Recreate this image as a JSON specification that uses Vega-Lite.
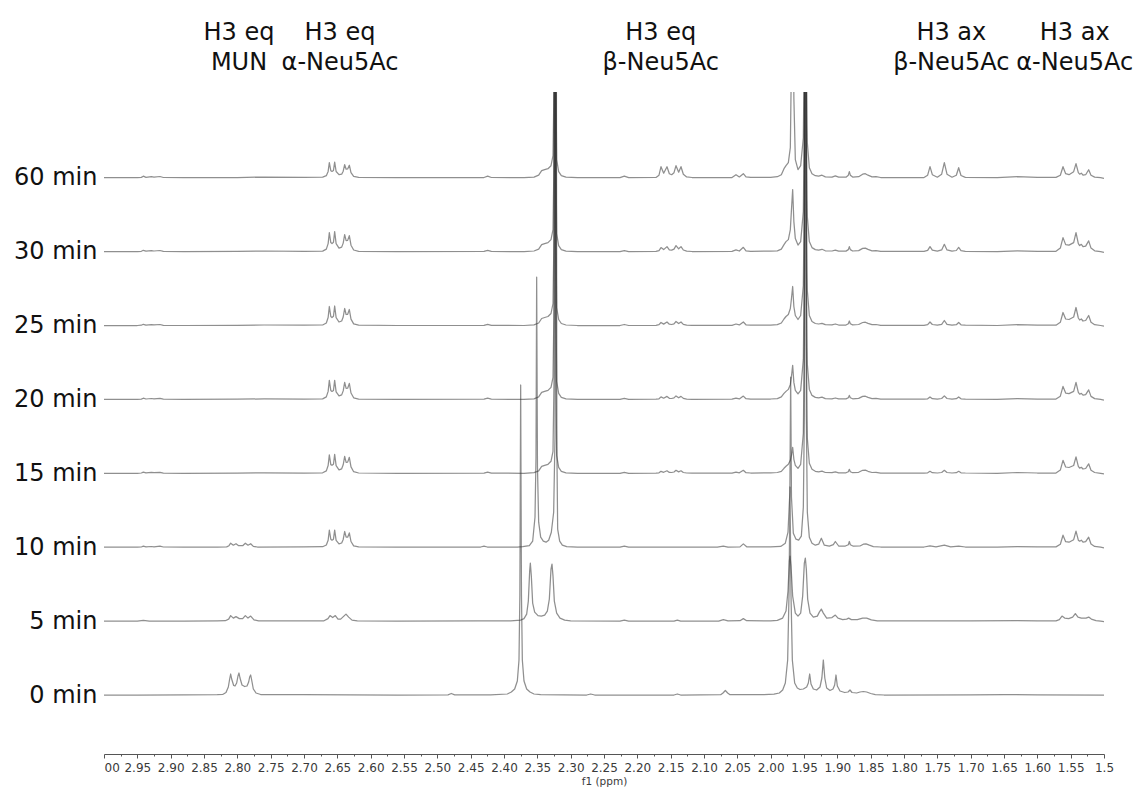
{
"$schema": "https://vega.github.io/schema/vega-lite/v6.json",
"width": 1000, "height": 662,
"autosize": {"type": "none"},
"padding": {"left": 104, "top": 92, "right": 31, "bottom": 38},
"background": "white",
"config": {"view": {"stroke": null}},
"resolve": {"axis": {"x": "independent"}},
"datasets": {
"headers": [
{"ppm": 2.7975, "label": "H3 eq\nMUN"},
{"ppm": 2.646, "label": "H3 eq\nα-Neu5Ac"},
{"ppm": 2.165, "label": "H3 eq\nβ-Neu5Ac"},
{"ppm": 1.729, "label": "H3 ax\nβ-Neu5Ac"},
{"ppm": 1.544, "label": "H3 ax\nα-Neu5Ac"}
],
"spectra": [
{"time":"60 min","ppm":3.000,"amp":0},{"time":"60 min","ppm":2.950,"amp":0},{"time":"60 min","ppm":2.944,"amp":0.3},{"time":"60 min","ppm":2.941,"amp":1.5},{"time":"60 min","ppm":2.937,"amp":0.4},{"time":"60 min","ppm":2.929,"amp":1.0},{"time":"60 min","ppm":2.925,"amp":0.6},{"time":"60 min","ppm":2.916,"amp":1.2},{"time":"60 min","ppm":2.911,"amp":0.2},{"time":"60 min","ppm":2.880,"amp":0},{"time":"60 min","ppm":2.800,"amp":0.2},{"time":"60 min","ppm":2.760,"amp":0.6},{"time":"60 min","ppm":2.700,"amp":0.3},
{"time":"60 min","ppm":2.672,"amp":0.5},{"time":"60 min","ppm":2.6665,"amp":2},{"time":"60 min","ppm":2.6638,"amp":6.3},{"time":"60 min","ppm":2.662,"amp":15},{"time":"60 min","ppm":2.6598,"amp":7},{"time":"60 min","ppm":2.658,"amp":6.3},{"time":"60 min","ppm":2.6558,"amp":7.3},{"time":"60 min","ppm":2.654,"amp":15.5},{"time":"60 min","ppm":2.6518,"amp":6.2},{"time":"60 min","ppm":2.6475,"amp":3},{"time":"60 min","ppm":2.6435,"amp":3.5},{"time":"60 min","ppm":2.6412,"amp":6.5},{"time":"60 min","ppm":2.639,"amp":13},{"time":"60 min","ppm":2.6368,"amp":8.5},{"time":"60 min","ppm":2.6345,"amp":8.8},{"time":"60 min","ppm":2.632,"amp":12.5},{"time":"60 min","ppm":2.6295,"amp":5},{"time":"60 min","ppm":2.6255,"amp":1.3},{"time":"60 min","ppm":2.618,"amp":0.3},
{"time":"60 min","ppm":2.560,"amp":0},{"time":"60 min","ppm":2.430,"amp":0.2},{"time":"60 min","ppm":2.4245,"amp":1.5},{"time":"60 min","ppm":2.419,"amp":0.2},{"time":"60 min","ppm":2.370,"amp":0},
{"time":"60 min","ppm":2.355,"amp":0.6},{"time":"60 min","ppm":2.348,"amp":2.5},{"time":"60 min","ppm":2.3435,"amp":7},{"time":"60 min","ppm":2.339,"amp":8},{"time":"60 min","ppm":2.334,"amp":9},{"time":"60 min","ppm":2.3295,"amp":12},{"time":"60 min","ppm":2.3265,"amp":22},{"time":"60 min","ppm":2.3248,"amp":100},{"time":"60 min","ppm":2.3235,"amp":800},{"time":"60 min","ppm":2.3222,"amp":100},{"time":"60 min","ppm":2.321,"amp":18},{"time":"60 min","ppm":2.318,"amp":6},{"time":"60 min","ppm":2.314,"amp":2},{"time":"60 min","ppm":2.307,"amp":0.5},{"time":"60 min","ppm":2.290,"amp":0},
{"time":"60 min","ppm":2.226,"amp":0},{"time":"60 min","ppm":2.2195,"amp":1.5},{"time":"60 min","ppm":2.213,"amp":0},
{"time":"60 min","ppm":2.172,"amp":0.3},{"time":"60 min","ppm":2.1675,"amp":2.5},{"time":"60 min","ppm":2.1645,"amp":11},{"time":"60 min","ppm":2.1605,"amp":4.5},{"time":"60 min","ppm":2.1555,"amp":11},{"time":"60 min","ppm":2.152,"amp":4},{"time":"60 min","ppm":2.1485,"amp":3},{"time":"60 min","ppm":2.145,"amp":5},{"time":"60 min","ppm":2.142,"amp":12},{"time":"60 min","ppm":2.138,"amp":5.5},{"time":"60 min","ppm":2.1345,"amp":11},{"time":"60 min","ppm":2.131,"amp":3.5},{"time":"60 min","ppm":2.126,"amp":0.8},{"time":"60 min","ppm":2.118,"amp":0.2},
{"time":"60 min","ppm":2.058,"amp":0.2},{"time":"60 min","ppm":2.052,"amp":3},{"time":"60 min","ppm":2.047,"amp":0.8},{"time":"60 min","ppm":2.041,"amp":4},{"time":"60 min","ppm":2.037,"amp":0.8},{"time":"60 min","ppm":2.030,"amp":0.3},{"time":"60 min","ppm":2.000,"amp":0.4},{"time":"60 min","ppm":1.990,"amp":1},
{"time":"60 min","ppm":1.984,"amp":3},{"time":"60 min","ppm":1.980,"amp":9},{"time":"60 min","ppm":1.977,"amp":12},{"time":"60 min","ppm":1.9735,"amp":15},{"time":"60 min","ppm":1.9705,"amp":30},{"time":"60 min","ppm":1.9688,"amp":120},{"time":"60 min","ppm":1.967,"amp":300},{"time":"60 min","ppm":1.9652,"amp":80},{"time":"60 min","ppm":1.963,"amp":18},{"time":"60 min","ppm":1.959,"amp":8},{"time":"60 min","ppm":1.955,"amp":12},{"time":"60 min","ppm":1.951,"amp":40},
{"time":"60 min","ppm":1.9495,"amp":130},{"time":"60 min","ppm":1.948,"amp":800},{"time":"60 min","ppm":1.9465,"amp":130},{"time":"60 min","ppm":1.945,"amp":35},{"time":"60 min","ppm":1.942,"amp":10},{"time":"60 min","ppm":1.938,"amp":4},{"time":"60 min","ppm":1.933,"amp":2},
{"time":"60 min","ppm":1.928,"amp":1.5},{"time":"60 min","ppm":1.923,"amp":2.5},{"time":"60 min","ppm":1.918,"amp":0.8},{"time":"60 min","ppm":1.908,"amp":0.6},{"time":"60 min","ppm":1.903,"amp":1.8},{"time":"60 min","ppm":1.898,"amp":0.5},{"time":"60 min","ppm":1.887,"amp":0.5},{"time":"60 min","ppm":1.8835,"amp":2.5},{"time":"60 min","ppm":1.882,"amp":6},{"time":"60 min","ppm":1.8805,"amp":2.5},{"time":"60 min","ppm":1.877,"amp":0.6},{"time":"60 min","ppm":1.868,"amp":1},{"time":"60 min","ppm":1.862,"amp":3.5},{"time":"60 min","ppm":1.858,"amp":4},{"time":"60 min","ppm":1.854,"amp":2.5},{"time":"60 min","ppm":1.848,"amp":0.8},{"time":"60 min","ppm":1.842,"amp":1},{"time":"60 min","ppm":1.835,"amp":0.2},
{"time":"60 min","ppm":1.770,"amp":0.2},{"time":"60 min","ppm":1.7645,"amp":2.5},{"time":"60 min","ppm":1.761,"amp":11},{"time":"60 min","ppm":1.7575,"amp":3},{"time":"60 min","ppm":1.750,"amp":0.5},{"time":"60 min","ppm":1.7435,"amp":3.5},{"time":"60 min","ppm":1.7395,"amp":15},{"time":"60 min","ppm":1.7355,"amp":3.5},{"time":"60 min","ppm":1.728,"amp":0.5},{"time":"60 min","ppm":1.7215,"amp":2.5},{"time":"60 min","ppm":1.718,"amp":10},{"time":"60 min","ppm":1.7145,"amp":2.2},{"time":"60 min","ppm":1.708,"amp":0.3},
{"time":"60 min","ppm":1.660,"amp":0},{"time":"60 min","ppm":1.630,"amp":1},{"time":"60 min","ppm":1.600,"amp":0.3},
{"time":"60 min","ppm":1.572,"amp":0.3},{"time":"60 min","ppm":1.5655,"amp":2.5},{"time":"60 min","ppm":1.5615,"amp":11},{"time":"60 min","ppm":1.5575,"amp":4},{"time":"60 min","ppm":1.5525,"amp":3},{"time":"60 min","ppm":1.5455,"amp":6},{"time":"60 min","ppm":1.542,"amp":14},{"time":"60 min","ppm":1.5385,"amp":5},{"time":"60 min","ppm":1.5365,"amp":3.5},{"time":"60 min","ppm":1.534,"amp":4.5},{"time":"60 min","ppm":1.5315,"amp":2.5},{"time":"60 min","ppm":1.5275,"amp":3},{"time":"60 min","ppm":1.523,"amp":8},{"time":"60 min","ppm":1.5195,"amp":2.5},{"time":"60 min","ppm":1.514,"amp":0.6},{"time":"60 min","ppm":1.505,"amp":0},{"time":"60 min","ppm":1.500,"amp":-0.7},

{"time":"30 min","ppm":3.000,"amp":0},{"time":"30 min","ppm":2.950,"amp":0},{"time":"30 min","ppm":2.944,"amp":0.3},{"time":"30 min","ppm":2.941,"amp":1.3},{"time":"30 min","ppm":2.937,"amp":0.4},{"time":"30 min","ppm":2.929,"amp":1.0},{"time":"30 min","ppm":2.925,"amp":0.6},{"time":"30 min","ppm":2.916,"amp":1.1},{"time":"30 min","ppm":2.911,"amp":0.2},{"time":"30 min","ppm":2.880,"amp":0},{"time":"30 min","ppm":2.800,"amp":0.2},{"time":"30 min","ppm":2.760,"amp":0.6},{"time":"30 min","ppm":2.700,"amp":0.3},
{"time":"30 min","ppm":2.672,"amp":0.5},{"time":"30 min","ppm":2.6665,"amp":2.5},{"time":"30 min","ppm":2.6638,"amp":8},{"time":"30 min","ppm":2.662,"amp":19},{"time":"30 min","ppm":2.6598,"amp":9},{"time":"30 min","ppm":2.658,"amp":8},{"time":"30 min","ppm":2.6558,"amp":9.4},{"time":"30 min","ppm":2.654,"amp":20},{"time":"30 min","ppm":2.6518,"amp":8},{"time":"30 min","ppm":2.6475,"amp":3.5},{"time":"30 min","ppm":2.6435,"amp":4.5},{"time":"30 min","ppm":2.6412,"amp":8.5},{"time":"30 min","ppm":2.639,"amp":17},{"time":"30 min","ppm":2.6368,"amp":11},{"time":"30 min","ppm":2.6345,"amp":11.2},{"time":"30 min","ppm":2.632,"amp":16},{"time":"30 min","ppm":2.6295,"amp":6.4},{"time":"30 min","ppm":2.6255,"amp":1.6},{"time":"30 min","ppm":2.618,"amp":0.3},
{"time":"30 min","ppm":2.560,"amp":0},{"time":"30 min","ppm":2.430,"amp":0.2},{"time":"30 min","ppm":2.4245,"amp":1.2},{"time":"30 min","ppm":2.419,"amp":0.2},{"time":"30 min","ppm":2.370,"amp":0},
{"time":"30 min","ppm":2.355,"amp":0.6},{"time":"30 min","ppm":2.348,"amp":2.5},{"time":"30 min","ppm":2.3435,"amp":7},{"time":"30 min","ppm":2.339,"amp":8},{"time":"30 min","ppm":2.334,"amp":9},{"time":"30 min","ppm":2.3295,"amp":12},{"time":"30 min","ppm":2.3265,"amp":22},{"time":"30 min","ppm":2.3248,"amp":100},{"time":"30 min","ppm":2.3235,"amp":800},{"time":"30 min","ppm":2.3222,"amp":100},{"time":"30 min","ppm":2.321,"amp":18},{"time":"30 min","ppm":2.318,"amp":6},{"time":"30 min","ppm":2.314,"amp":2},{"time":"30 min","ppm":2.307,"amp":0.5},{"time":"30 min","ppm":2.290,"amp":0},
{"time":"30 min","ppm":2.226,"amp":0},{"time":"30 min","ppm":2.2195,"amp":1},{"time":"30 min","ppm":2.213,"amp":0},
{"time":"30 min","ppm":2.172,"amp":0.2},{"time":"30 min","ppm":2.1675,"amp":1},{"time":"30 min","ppm":2.1645,"amp":4},{"time":"30 min","ppm":2.1605,"amp":2},{"time":"30 min","ppm":2.1555,"amp":5},{"time":"30 min","ppm":2.152,"amp":1.8},{"time":"30 min","ppm":2.1485,"amp":1.5},{"time":"30 min","ppm":2.145,"amp":2.5},{"time":"30 min","ppm":2.142,"amp":6},{"time":"30 min","ppm":2.138,"amp":2.8},{"time":"30 min","ppm":2.1345,"amp":5},{"time":"30 min","ppm":2.131,"amp":1.6},{"time":"30 min","ppm":2.126,"amp":0.4},{"time":"30 min","ppm":2.118,"amp":0.1},
{"time":"30 min","ppm":2.058,"amp":0.2},{"time":"30 min","ppm":2.052,"amp":1.7},{"time":"30 min","ppm":2.047,"amp":0.6},{"time":"30 min","ppm":2.041,"amp":4.3},{"time":"30 min","ppm":2.037,"amp":0.8},{"time":"30 min","ppm":2.030,"amp":0.3},{"time":"30 min","ppm":2.000,"amp":0.4},{"time":"30 min","ppm":1.990,"amp":0.8},
{"time":"30 min","ppm":1.984,"amp":2.5},{"time":"30 min","ppm":1.980,"amp":7},{"time":"30 min","ppm":1.977,"amp":10},{"time":"30 min","ppm":1.9735,"amp":12},{"time":"30 min","ppm":1.9705,"amp":22},{"time":"30 min","ppm":1.9688,"amp":42},{"time":"30 min","ppm":1.967,"amp":62},{"time":"30 min","ppm":1.9652,"amp":30},{"time":"30 min","ppm":1.963,"amp":13},{"time":"30 min","ppm":1.959,"amp":6.5},{"time":"30 min","ppm":1.955,"amp":10},{"time":"30 min","ppm":1.951,"amp":40},
{"time":"30 min","ppm":1.9495,"amp":130},{"time":"30 min","ppm":1.948,"amp":800},{"time":"30 min","ppm":1.9465,"amp":130},{"time":"30 min","ppm":1.945,"amp":35},{"time":"30 min","ppm":1.942,"amp":10},{"time":"30 min","ppm":1.938,"amp":4},{"time":"30 min","ppm":1.933,"amp":2},
{"time":"30 min","ppm":1.928,"amp":1.5},{"time":"30 min","ppm":1.923,"amp":2.3},{"time":"30 min","ppm":1.918,"amp":0.8},{"time":"30 min","ppm":1.908,"amp":0.6},{"time":"30 min","ppm":1.903,"amp":1.5},{"time":"30 min","ppm":1.898,"amp":0.5},{"time":"30 min","ppm":1.887,"amp":0.5},{"time":"30 min","ppm":1.8835,"amp":2},{"time":"30 min","ppm":1.882,"amp":5},{"time":"30 min","ppm":1.8805,"amp":2},{"time":"30 min","ppm":1.877,"amp":0.6},{"time":"30 min","ppm":1.868,"amp":1},{"time":"30 min","ppm":1.862,"amp":3.2},{"time":"30 min","ppm":1.858,"amp":3.5},{"time":"30 min","ppm":1.854,"amp":2.2},{"time":"30 min","ppm":1.848,"amp":0.8},{"time":"30 min","ppm":1.842,"amp":1},{"time":"30 min","ppm":1.835,"amp":0.2},
{"time":"30 min","ppm":1.770,"amp":0.2},{"time":"30 min","ppm":1.7645,"amp":1.2},{"time":"30 min","ppm":1.761,"amp":5},{"time":"30 min","ppm":1.7575,"amp":1.4},{"time":"30 min","ppm":1.750,"amp":0.4},{"time":"30 min","ppm":1.7435,"amp":1.7},{"time":"30 min","ppm":1.7395,"amp":7.3},{"time":"30 min","ppm":1.7355,"amp":1.7},{"time":"30 min","ppm":1.728,"amp":0.4},{"time":"30 min","ppm":1.7215,"amp":1.1},{"time":"30 min","ppm":1.718,"amp":4.3},{"time":"30 min","ppm":1.7145,"amp":1},{"time":"30 min","ppm":1.708,"amp":0.3},
{"time":"30 min","ppm":1.660,"amp":0},{"time":"30 min","ppm":1.630,"amp":0.8},{"time":"30 min","ppm":1.600,"amp":0.3},
{"time":"30 min","ppm":1.572,"amp":0.3},{"time":"30 min","ppm":1.5655,"amp":3.5},{"time":"30 min","ppm":1.5615,"amp":14},{"time":"30 min","ppm":1.5575,"amp":7},{"time":"30 min","ppm":1.5525,"amp":6.5},{"time":"30 min","ppm":1.5455,"amp":9},{"time":"30 min","ppm":1.542,"amp":19},{"time":"30 min","ppm":1.5385,"amp":8},{"time":"30 min","ppm":1.5365,"amp":6},{"time":"30 min","ppm":1.534,"amp":7.3},{"time":"30 min","ppm":1.5315,"amp":5},{"time":"30 min","ppm":1.5275,"amp":5.5},{"time":"30 min","ppm":1.523,"amp":10.7},{"time":"30 min","ppm":1.5195,"amp":3.5},{"time":"30 min","ppm":1.514,"amp":0.8},{"time":"30 min","ppm":1.505,"amp":0},{"time":"30 min","ppm":1.500,"amp":-0.7},

{"time":"25 min","ppm":3.000,"amp":0},{"time":"25 min","ppm":2.950,"amp":0},{"time":"25 min","ppm":2.944,"amp":0.3},{"time":"25 min","ppm":2.941,"amp":1.2},{"time":"25 min","ppm":2.937,"amp":0.4},{"time":"25 min","ppm":2.929,"amp":0.9},{"time":"25 min","ppm":2.925,"amp":0.6},{"time":"25 min","ppm":2.916,"amp":1.0},{"time":"25 min","ppm":2.911,"amp":0.2},{"time":"25 min","ppm":2.880,"amp":0},{"time":"25 min","ppm":2.800,"amp":0.2},{"time":"25 min","ppm":2.760,"amp":0.5},{"time":"25 min","ppm":2.700,"amp":0.3},
{"time":"25 min","ppm":2.672,"amp":0.5},{"time":"25 min","ppm":2.6665,"amp":2.5},{"time":"25 min","ppm":2.6638,"amp":8},{"time":"25 min","ppm":2.662,"amp":19},{"time":"25 min","ppm":2.6598,"amp":9},{"time":"25 min","ppm":2.658,"amp":8},{"time":"25 min","ppm":2.6558,"amp":9.2},{"time":"25 min","ppm":2.654,"amp":19.5},{"time":"25 min","ppm":2.6518,"amp":7.8},{"time":"25 min","ppm":2.6475,"amp":3.5},{"time":"25 min","ppm":2.6435,"amp":4.5},{"time":"25 min","ppm":2.6412,"amp":8.5},{"time":"25 min","ppm":2.639,"amp":17},{"time":"25 min","ppm":2.6368,"amp":11},{"time":"25 min","ppm":2.6345,"amp":11.2},{"time":"25 min","ppm":2.632,"amp":16},{"time":"25 min","ppm":2.6295,"amp":6.4},{"time":"25 min","ppm":2.6255,"amp":1.6},{"time":"25 min","ppm":2.618,"amp":0.3},
{"time":"25 min","ppm":2.560,"amp":0},{"time":"25 min","ppm":2.430,"amp":0.2},{"time":"25 min","ppm":2.4245,"amp":1.2},{"time":"25 min","ppm":2.419,"amp":0.2},{"time":"25 min","ppm":2.370,"amp":0},
{"time":"25 min","ppm":2.355,"amp":0.6},{"time":"25 min","ppm":2.348,"amp":2.5},{"time":"25 min","ppm":2.3435,"amp":7},{"time":"25 min","ppm":2.339,"amp":8},{"time":"25 min","ppm":2.334,"amp":9},{"time":"25 min","ppm":2.3295,"amp":12},{"time":"25 min","ppm":2.3265,"amp":22},{"time":"25 min","ppm":2.3248,"amp":100},{"time":"25 min","ppm":2.3235,"amp":800},{"time":"25 min","ppm":2.3222,"amp":100},{"time":"25 min","ppm":2.321,"amp":18},{"time":"25 min","ppm":2.318,"amp":6},{"time":"25 min","ppm":2.314,"amp":2},{"time":"25 min","ppm":2.307,"amp":0.5},{"time":"25 min","ppm":2.290,"amp":0},
{"time":"25 min","ppm":2.226,"amp":0},{"time":"25 min","ppm":2.2195,"amp":1},{"time":"25 min","ppm":2.213,"amp":0},
{"time":"25 min","ppm":2.172,"amp":0.2},{"time":"25 min","ppm":2.1675,"amp":0.8},{"time":"25 min","ppm":2.1645,"amp":3},{"time":"25 min","ppm":2.1605,"amp":1.4},{"time":"25 min","ppm":2.1555,"amp":3.5},{"time":"25 min","ppm":2.152,"amp":1.3},{"time":"25 min","ppm":2.1485,"amp":1},{"time":"25 min","ppm":2.145,"amp":1.7},{"time":"25 min","ppm":2.142,"amp":4},{"time":"25 min","ppm":2.138,"amp":1.9},{"time":"25 min","ppm":2.1345,"amp":3.5},{"time":"25 min","ppm":2.131,"amp":1.1},{"time":"25 min","ppm":2.126,"amp":0.3},{"time":"25 min","ppm":2.118,"amp":0.1},
{"time":"25 min","ppm":2.058,"amp":0.2},{"time":"25 min","ppm":2.052,"amp":1.5},{"time":"25 min","ppm":2.047,"amp":0.6},{"time":"25 min","ppm":2.041,"amp":3.5},{"time":"25 min","ppm":2.037,"amp":0.7},{"time":"25 min","ppm":2.030,"amp":0.3},{"time":"25 min","ppm":2.000,"amp":0.4},{"time":"25 min","ppm":1.990,"amp":0.8},
{"time":"25 min","ppm":1.984,"amp":2.5},{"time":"25 min","ppm":1.980,"amp":6.5},{"time":"25 min","ppm":1.977,"amp":9},{"time":"25 min","ppm":1.9735,"amp":11},{"time":"25 min","ppm":1.9705,"amp":17},{"time":"25 min","ppm":1.9688,"amp":27},{"time":"25 min","ppm":1.967,"amp":39},{"time":"25 min","ppm":1.9652,"amp":19},{"time":"25 min","ppm":1.963,"amp":10},{"time":"25 min","ppm":1.959,"amp":6},{"time":"25 min","ppm":1.955,"amp":10},{"time":"25 min","ppm":1.951,"amp":40},
{"time":"25 min","ppm":1.9495,"amp":130},{"time":"25 min","ppm":1.948,"amp":800},{"time":"25 min","ppm":1.9465,"amp":130},{"time":"25 min","ppm":1.945,"amp":35},{"time":"25 min","ppm":1.942,"amp":10},{"time":"25 min","ppm":1.938,"amp":4},{"time":"25 min","ppm":1.933,"amp":2},
{"time":"25 min","ppm":1.928,"amp":1.5},{"time":"25 min","ppm":1.923,"amp":2.2},{"time":"25 min","ppm":1.918,"amp":0.8},{"time":"25 min","ppm":1.908,"amp":0.6},{"time":"25 min","ppm":1.903,"amp":1.5},{"time":"25 min","ppm":1.898,"amp":0.5},{"time":"25 min","ppm":1.887,"amp":0.5},{"time":"25 min","ppm":1.8835,"amp":1.8},{"time":"25 min","ppm":1.882,"amp":4.5},{"time":"25 min","ppm":1.8805,"amp":1.8},{"time":"25 min","ppm":1.877,"amp":0.6},{"time":"25 min","ppm":1.868,"amp":1},{"time":"25 min","ppm":1.862,"amp":3},{"time":"25 min","ppm":1.858,"amp":3.3},{"time":"25 min","ppm":1.854,"amp":2.1},{"time":"25 min","ppm":1.848,"amp":0.8},{"time":"25 min","ppm":1.842,"amp":1},{"time":"25 min","ppm":1.835,"amp":0.2},
{"time":"25 min","ppm":1.770,"amp":0.2},{"time":"25 min","ppm":1.7645,"amp":0.8},{"time":"25 min","ppm":1.761,"amp":3.5},{"time":"25 min","ppm":1.7575,"amp":1},{"time":"25 min","ppm":1.750,"amp":0.3},{"time":"25 min","ppm":1.7435,"amp":1.2},{"time":"25 min","ppm":1.7395,"amp":5},{"time":"25 min","ppm":1.7355,"amp":1.2},{"time":"25 min","ppm":1.728,"amp":0.3},{"time":"25 min","ppm":1.7215,"amp":0.8},{"time":"25 min","ppm":1.718,"amp":3},{"time":"25 min","ppm":1.7145,"amp":0.7},{"time":"25 min","ppm":1.708,"amp":0.3},
{"time":"25 min","ppm":1.660,"amp":0},{"time":"25 min","ppm":1.630,"amp":0.8},{"time":"25 min","ppm":1.600,"amp":0.3},
{"time":"25 min","ppm":1.572,"amp":0.3},{"time":"25 min","ppm":1.5655,"amp":3.2},{"time":"25 min","ppm":1.5615,"amp":13},{"time":"25 min","ppm":1.5575,"amp":6.5},{"time":"25 min","ppm":1.5525,"amp":6},{"time":"25 min","ppm":1.5455,"amp":8.5},{"time":"25 min","ppm":1.542,"amp":18},{"time":"25 min","ppm":1.5385,"amp":7.5},{"time":"25 min","ppm":1.5365,"amp":5.5},{"time":"25 min","ppm":1.534,"amp":6.5},{"time":"25 min","ppm":1.5315,"amp":4.5},{"time":"25 min","ppm":1.5275,"amp":5},{"time":"25 min","ppm":1.523,"amp":10},{"time":"25 min","ppm":1.5195,"amp":3.2},{"time":"25 min","ppm":1.514,"amp":0.8},{"time":"25 min","ppm":1.505,"amp":0},{"time":"25 min","ppm":1.500,"amp":-0.7},

{"time":"20 min","ppm":3.000,"amp":0},{"time":"20 min","ppm":2.950,"amp":0},{"time":"20 min","ppm":2.944,"amp":0.3},{"time":"20 min","ppm":2.941,"amp":1.2},{"time":"20 min","ppm":2.937,"amp":0.4},{"time":"20 min","ppm":2.929,"amp":0.9},{"time":"20 min","ppm":2.925,"amp":0.6},{"time":"20 min","ppm":2.916,"amp":1.0},{"time":"20 min","ppm":2.911,"amp":0.2},{"time":"20 min","ppm":2.880,"amp":0},{"time":"20 min","ppm":2.800,"amp":0.2},{"time":"20 min","ppm":2.760,"amp":0.5},{"time":"20 min","ppm":2.700,"amp":0.3},
{"time":"20 min","ppm":2.672,"amp":0.5},{"time":"20 min","ppm":2.6665,"amp":2.5},{"time":"20 min","ppm":2.6638,"amp":8},{"time":"20 min","ppm":2.662,"amp":19},{"time":"20 min","ppm":2.6598,"amp":9},{"time":"20 min","ppm":2.658,"amp":8},{"time":"20 min","ppm":2.6558,"amp":9},{"time":"20 min","ppm":2.654,"amp":19},{"time":"20 min","ppm":2.6518,"amp":7.6},{"time":"20 min","ppm":2.6475,"amp":3.5},{"time":"20 min","ppm":2.6435,"amp":4.5},{"time":"20 min","ppm":2.6412,"amp":8.5},{"time":"20 min","ppm":2.639,"amp":17},{"time":"20 min","ppm":2.6368,"amp":11},{"time":"20 min","ppm":2.6345,"amp":11.2},{"time":"20 min","ppm":2.632,"amp":16},{"time":"20 min","ppm":2.6295,"amp":6.4},{"time":"20 min","ppm":2.6255,"amp":1.6},{"time":"20 min","ppm":2.618,"amp":0.3},
{"time":"20 min","ppm":2.560,"amp":0},{"time":"20 min","ppm":2.430,"amp":0.2},{"time":"20 min","ppm":2.4245,"amp":1.2},{"time":"20 min","ppm":2.419,"amp":0.2},{"time":"20 min","ppm":2.370,"amp":0},
{"time":"20 min","ppm":2.355,"amp":0.6},{"time":"20 min","ppm":2.348,"amp":2.5},{"time":"20 min","ppm":2.3435,"amp":7},{"time":"20 min","ppm":2.339,"amp":8},{"time":"20 min","ppm":2.334,"amp":9},{"time":"20 min","ppm":2.3295,"amp":12},{"time":"20 min","ppm":2.3265,"amp":22},{"time":"20 min","ppm":2.3248,"amp":100},{"time":"20 min","ppm":2.3235,"amp":800},{"time":"20 min","ppm":2.3222,"amp":100},{"time":"20 min","ppm":2.321,"amp":18},{"time":"20 min","ppm":2.318,"amp":6},{"time":"20 min","ppm":2.314,"amp":2},{"time":"20 min","ppm":2.307,"amp":0.5},{"time":"20 min","ppm":2.290,"amp":0},
{"time":"20 min","ppm":2.226,"amp":0},{"time":"20 min","ppm":2.2195,"amp":1},{"time":"20 min","ppm":2.213,"amp":0},
{"time":"20 min","ppm":2.172,"amp":0.2},{"time":"20 min","ppm":2.1675,"amp":0.6},{"time":"20 min","ppm":2.1645,"amp":2.5},{"time":"20 min","ppm":2.1605,"amp":1.2},{"time":"20 min","ppm":2.1555,"amp":3},{"time":"20 min","ppm":2.152,"amp":1.1},{"time":"20 min","ppm":2.1485,"amp":0.9},{"time":"20 min","ppm":2.145,"amp":1.5},{"time":"20 min","ppm":2.142,"amp":3.5},{"time":"20 min","ppm":2.138,"amp":1.6},{"time":"20 min","ppm":2.1345,"amp":3},{"time":"20 min","ppm":2.131,"amp":1},{"time":"20 min","ppm":2.126,"amp":0.3},{"time":"20 min","ppm":2.118,"amp":0.1},
{"time":"20 min","ppm":2.058,"amp":0.2},{"time":"20 min","ppm":2.052,"amp":1.3},{"time":"20 min","ppm":2.047,"amp":0.5},{"time":"20 min","ppm":2.041,"amp":3.3},{"time":"20 min","ppm":2.037,"amp":0.7},{"time":"20 min","ppm":2.030,"amp":0.3},{"time":"20 min","ppm":2.000,"amp":0.4},{"time":"20 min","ppm":1.990,"amp":0.8},
{"time":"20 min","ppm":1.984,"amp":2.5},{"time":"20 min","ppm":1.980,"amp":6},{"time":"20 min","ppm":1.977,"amp":8},{"time":"20 min","ppm":1.9735,"amp":10},{"time":"20 min","ppm":1.9705,"amp":15},{"time":"20 min","ppm":1.9688,"amp":23},{"time":"20 min","ppm":1.967,"amp":34},{"time":"20 min","ppm":1.9652,"amp":17},{"time":"20 min","ppm":1.963,"amp":9},{"time":"20 min","ppm":1.959,"amp":5.5},{"time":"20 min","ppm":1.955,"amp":9},{"time":"20 min","ppm":1.951,"amp":40},
{"time":"20 min","ppm":1.9495,"amp":130},{"time":"20 min","ppm":1.948,"amp":800},{"time":"20 min","ppm":1.9465,"amp":130},{"time":"20 min","ppm":1.945,"amp":35},{"time":"20 min","ppm":1.942,"amp":10},{"time":"20 min","ppm":1.938,"amp":4},{"time":"20 min","ppm":1.933,"amp":2},
{"time":"20 min","ppm":1.928,"amp":1.5},{"time":"20 min","ppm":1.923,"amp":2.2},{"time":"20 min","ppm":1.918,"amp":0.8},{"time":"20 min","ppm":1.908,"amp":0.6},{"time":"20 min","ppm":1.903,"amp":1.4},{"time":"20 min","ppm":1.898,"amp":0.5},{"time":"20 min","ppm":1.887,"amp":0.5},{"time":"20 min","ppm":1.8835,"amp":1.6},{"time":"20 min","ppm":1.882,"amp":4},{"time":"20 min","ppm":1.8805,"amp":1.6},{"time":"20 min","ppm":1.877,"amp":0.6},{"time":"20 min","ppm":1.868,"amp":1},{"time":"20 min","ppm":1.862,"amp":3},{"time":"20 min","ppm":1.858,"amp":3.2},{"time":"20 min","ppm":1.854,"amp":2},{"time":"20 min","ppm":1.848,"amp":0.8},{"time":"20 min","ppm":1.842,"amp":1},{"time":"20 min","ppm":1.835,"amp":0.2},
{"time":"20 min","ppm":1.770,"amp":0.2},{"time":"20 min","ppm":1.7645,"amp":0.6},{"time":"20 min","ppm":1.761,"amp":2.5},{"time":"20 min","ppm":1.7575,"amp":0.7},{"time":"20 min","ppm":1.750,"amp":0.3},{"time":"20 min","ppm":1.7435,"amp":0.9},{"time":"20 min","ppm":1.7395,"amp":3.5},{"time":"20 min","ppm":1.7355,"amp":0.9},{"time":"20 min","ppm":1.728,"amp":0.3},{"time":"20 min","ppm":1.7215,"amp":0.7},{"time":"20 min","ppm":1.718,"amp":2.5},{"time":"20 min","ppm":1.7145,"amp":0.6},{"time":"20 min","ppm":1.708,"amp":0.3},
{"time":"20 min","ppm":1.660,"amp":0},{"time":"20 min","ppm":1.630,"amp":0.8},{"time":"20 min","ppm":1.600,"amp":0.3},
{"time":"20 min","ppm":1.572,"amp":0.3},{"time":"20 min","ppm":1.5655,"amp":3.2},{"time":"20 min","ppm":1.5615,"amp":13},{"time":"20 min","ppm":1.5575,"amp":6.3},{"time":"20 min","ppm":1.5525,"amp":5.8},{"time":"20 min","ppm":1.5455,"amp":8},{"time":"20 min","ppm":1.542,"amp":17},{"time":"20 min","ppm":1.5385,"amp":7},{"time":"20 min","ppm":1.5365,"amp":5.2},{"time":"20 min","ppm":1.534,"amp":6},{"time":"20 min","ppm":1.5315,"amp":4.3},{"time":"20 min","ppm":1.5275,"amp":4.8},{"time":"20 min","ppm":1.523,"amp":9.5},{"time":"20 min","ppm":1.5195,"amp":3},{"time":"20 min","ppm":1.514,"amp":0.8},{"time":"20 min","ppm":1.505,"amp":0},{"time":"20 min","ppm":1.500,"amp":-0.7},

{"time":"15 min","ppm":3.000,"amp":0},{"time":"15 min","ppm":2.950,"amp":0},{"time":"15 min","ppm":2.944,"amp":0.3},{"time":"15 min","ppm":2.941,"amp":1.2},{"time":"15 min","ppm":2.937,"amp":0.4},{"time":"15 min","ppm":2.929,"amp":0.9},{"time":"15 min","ppm":2.925,"amp":0.6},{"time":"15 min","ppm":2.916,"amp":1.0},{"time":"15 min","ppm":2.911,"amp":0.2},{"time":"15 min","ppm":2.880,"amp":0},{"time":"15 min","ppm":2.800,"amp":0.3},{"time":"15 min","ppm":2.760,"amp":0.5},{"time":"15 min","ppm":2.700,"amp":0.3},
{"time":"15 min","ppm":2.672,"amp":0.5},{"time":"15 min","ppm":2.6665,"amp":2.4},{"time":"15 min","ppm":2.6638,"amp":7.8},{"time":"15 min","ppm":2.662,"amp":18.5},{"time":"15 min","ppm":2.6598,"amp":8.7},{"time":"15 min","ppm":2.658,"amp":8},{"time":"15 min","ppm":2.6558,"amp":9},{"time":"15 min","ppm":2.654,"amp":19},{"time":"15 min","ppm":2.6518,"amp":7.6},{"time":"15 min","ppm":2.6475,"amp":3.5},{"time":"15 min","ppm":2.6435,"amp":4.5},{"time":"15 min","ppm":2.6412,"amp":8.5},{"time":"15 min","ppm":2.639,"amp":17},{"time":"15 min","ppm":2.6368,"amp":11},{"time":"15 min","ppm":2.6345,"amp":11.2},{"time":"15 min","ppm":2.632,"amp":16},{"time":"15 min","ppm":2.6295,"amp":6.4},{"time":"15 min","ppm":2.6255,"amp":1.6},{"time":"15 min","ppm":2.618,"amp":0.3},
{"time":"15 min","ppm":2.560,"amp":0},{"time":"15 min","ppm":2.430,"amp":0.2},{"time":"15 min","ppm":2.4245,"amp":1.2},{"time":"15 min","ppm":2.419,"amp":0.2},{"time":"15 min","ppm":2.370,"amp":0},
{"time":"15 min","ppm":2.355,"amp":0.6},{"time":"15 min","ppm":2.348,"amp":2.5},{"time":"15 min","ppm":2.3435,"amp":7},{"time":"15 min","ppm":2.339,"amp":8},{"time":"15 min","ppm":2.334,"amp":9},{"time":"15 min","ppm":2.3295,"amp":12},{"time":"15 min","ppm":2.3265,"amp":22},{"time":"15 min","ppm":2.3248,"amp":100},{"time":"15 min","ppm":2.3235,"amp":800},{"time":"15 min","ppm":2.3222,"amp":100},{"time":"15 min","ppm":2.321,"amp":18},{"time":"15 min","ppm":2.318,"amp":6},{"time":"15 min","ppm":2.314,"amp":2},{"time":"15 min","ppm":2.307,"amp":0.5},{"time":"15 min","ppm":2.290,"amp":0},
{"time":"15 min","ppm":2.226,"amp":0},{"time":"15 min","ppm":2.2195,"amp":1},{"time":"15 min","ppm":2.213,"amp":0},
{"time":"15 min","ppm":2.172,"amp":0.2},{"time":"15 min","ppm":2.1675,"amp":0.5},{"time":"15 min","ppm":2.1645,"amp":2},{"time":"15 min","ppm":2.1605,"amp":1},{"time":"15 min","ppm":2.1555,"amp":2.5},{"time":"15 min","ppm":2.152,"amp":0.9},{"time":"15 min","ppm":2.1485,"amp":0.8},{"time":"15 min","ppm":2.145,"amp":1.3},{"time":"15 min","ppm":2.142,"amp":3},{"time":"15 min","ppm":2.138,"amp":1.4},{"time":"15 min","ppm":2.1345,"amp":2.5},{"time":"15 min","ppm":2.131,"amp":0.8},{"time":"15 min","ppm":2.126,"amp":0.3},{"time":"15 min","ppm":2.118,"amp":0.1},
{"time":"15 min","ppm":2.058,"amp":0.2},{"time":"15 min","ppm":2.052,"amp":1.2},{"time":"15 min","ppm":2.047,"amp":0.5},{"time":"15 min","ppm":2.041,"amp":3},{"time":"15 min","ppm":2.037,"amp":0.6},{"time":"15 min","ppm":2.030,"amp":0.3},{"time":"15 min","ppm":2.000,"amp":0.4},{"time":"15 min","ppm":1.990,"amp":0.8},
{"time":"15 min","ppm":1.984,"amp":2},{"time":"15 min","ppm":1.980,"amp":5},{"time":"15 min","ppm":1.977,"amp":7},{"time":"15 min","ppm":1.9735,"amp":9},{"time":"15 min","ppm":1.9705,"amp":13},{"time":"15 min","ppm":1.9688,"amp":18},{"time":"15 min","ppm":1.967,"amp":26},{"time":"15 min","ppm":1.9652,"amp":14},{"time":"15 min","ppm":1.963,"amp":8},{"time":"15 min","ppm":1.959,"amp":5},{"time":"15 min","ppm":1.955,"amp":9},{"time":"15 min","ppm":1.951,"amp":40},
{"time":"15 min","ppm":1.9495,"amp":130},{"time":"15 min","ppm":1.948,"amp":800},{"time":"15 min","ppm":1.9465,"amp":130},{"time":"15 min","ppm":1.945,"amp":35},{"time":"15 min","ppm":1.942,"amp":10},{"time":"15 min","ppm":1.938,"amp":4},{"time":"15 min","ppm":1.933,"amp":2},
{"time":"15 min","ppm":1.928,"amp":1.5},{"time":"15 min","ppm":1.923,"amp":2.2},{"time":"15 min","ppm":1.918,"amp":0.8},{"time":"15 min","ppm":1.908,"amp":0.6},{"time":"15 min","ppm":1.903,"amp":1.4},{"time":"15 min","ppm":1.898,"amp":0.5},{"time":"15 min","ppm":1.887,"amp":0.5},{"time":"15 min","ppm":1.8835,"amp":1.6},{"time":"15 min","ppm":1.882,"amp":4},{"time":"15 min","ppm":1.8805,"amp":1.6},{"time":"15 min","ppm":1.877,"amp":0.6},{"time":"15 min","ppm":1.868,"amp":1},{"time":"15 min","ppm":1.862,"amp":3},{"time":"15 min","ppm":1.858,"amp":3.2},{"time":"15 min","ppm":1.854,"amp":2},{"time":"15 min","ppm":1.848,"amp":0.8},{"time":"15 min","ppm":1.842,"amp":1},{"time":"15 min","ppm":1.835,"amp":0.2},
{"time":"15 min","ppm":1.770,"amp":0.2},{"time":"15 min","ppm":1.7645,"amp":0.5},{"time":"15 min","ppm":1.761,"amp":2},{"time":"15 min","ppm":1.7575,"amp":0.6},{"time":"15 min","ppm":1.750,"amp":0.3},{"time":"15 min","ppm":1.7435,"amp":0.8},{"time":"15 min","ppm":1.7395,"amp":3},{"time":"15 min","ppm":1.7355,"amp":0.8},{"time":"15 min","ppm":1.728,"amp":0.3},{"time":"15 min","ppm":1.7215,"amp":0.6},{"time":"15 min","ppm":1.718,"amp":2},{"time":"15 min","ppm":1.7145,"amp":0.5},{"time":"15 min","ppm":1.708,"amp":0.3},
{"time":"15 min","ppm":1.660,"amp":0},{"time":"15 min","ppm":1.630,"amp":0.8},{"time":"15 min","ppm":1.600,"amp":0.3},
{"time":"15 min","ppm":1.572,"amp":0.3},{"time":"15 min","ppm":1.5655,"amp":3.2},{"time":"15 min","ppm":1.5615,"amp":13},{"time":"15 min","ppm":1.5575,"amp":6.3},{"time":"15 min","ppm":1.5525,"amp":5.8},{"time":"15 min","ppm":1.5455,"amp":7.8},{"time":"15 min","ppm":1.542,"amp":16.5},{"time":"15 min","ppm":1.5385,"amp":7},{"time":"15 min","ppm":1.5365,"amp":5.2},{"time":"15 min","ppm":1.534,"amp":6},{"time":"15 min","ppm":1.5315,"amp":4.3},{"time":"15 min","ppm":1.5275,"amp":4.8},{"time":"15 min","ppm":1.523,"amp":9.5},{"time":"15 min","ppm":1.5195,"amp":3},{"time":"15 min","ppm":1.514,"amp":0.8},{"time":"15 min","ppm":1.505,"amp":0},{"time":"15 min","ppm":1.500,"amp":-0.7},

{"time":"10 min","ppm":3.000,"amp":0},{"time":"10 min","ppm":2.950,"amp":0},{"time":"10 min","ppm":2.944,"amp":0.2},{"time":"10 min","ppm":2.941,"amp":1},{"time":"10 min","ppm":2.937,"amp":0.3},{"time":"10 min","ppm":2.929,"amp":0.7},{"time":"10 min","ppm":2.925,"amp":0.4},{"time":"10 min","ppm":2.916,"amp":1},{"time":"10 min","ppm":2.911,"amp":0.2},{"time":"10 min","ppm":2.880,"amp":0},{"time":"10 min","ppm":2.830,"amp":0.2},
{"time":"10 min","ppm":2.816,"amp":0.3},{"time":"10 min","ppm":2.8125,"amp":1.5},{"time":"10 min","ppm":2.810,"amp":4},{"time":"10 min","ppm":2.806,"amp":2},{"time":"10 min","ppm":2.802,"amp":3.5},{"time":"10 min","ppm":2.798,"amp":1.5},{"time":"10 min","ppm":2.792,"amp":1.5},{"time":"10 min","ppm":2.788,"amp":4},{"time":"10 min","ppm":2.784,"amp":2},{"time":"10 min","ppm":2.780,"amp":3.5},{"time":"10 min","ppm":2.776,"amp":0.8},{"time":"10 min","ppm":2.770,"amp":0.2},{"time":"10 min","ppm":2.700,"amp":0.3},
{"time":"10 min","ppm":2.672,"amp":0.5},{"time":"10 min","ppm":2.6665,"amp":2.2},{"time":"10 min","ppm":2.6638,"amp":7},{"time":"10 min","ppm":2.662,"amp":17},{"time":"10 min","ppm":2.6598,"amp":8},{"time":"10 min","ppm":2.658,"amp":7},{"time":"10 min","ppm":2.6558,"amp":8},{"time":"10 min","ppm":2.654,"amp":17},{"time":"10 min","ppm":2.6518,"amp":6.8},{"time":"10 min","ppm":2.6475,"amp":3.3},{"time":"10 min","ppm":2.6435,"amp":4.2},{"time":"10 min","ppm":2.6412,"amp":7.8},{"time":"10 min","ppm":2.639,"amp":15.7},{"time":"10 min","ppm":2.6368,"amp":10},{"time":"10 min","ppm":2.6345,"amp":10},{"time":"10 min","ppm":2.632,"amp":14.3},{"time":"10 min","ppm":2.6295,"amp":5.7},{"time":"10 min","ppm":2.6255,"amp":1.4},{"time":"10 min","ppm":2.618,"amp":0.3},
{"time":"10 min","ppm":2.560,"amp":0},{"time":"10 min","ppm":2.435,"amp":0.2},{"time":"10 min","ppm":2.430,"amp":1},{"time":"10 min","ppm":2.425,"amp":0.2},{"time":"10 min","ppm":2.380,"amp":0},
{"time":"10 min","ppm":2.372,"amp":0.5},{"time":"10 min","ppm":2.362,"amp":1.5},{"time":"10 min","ppm":2.357,"amp":6},{"time":"10 min","ppm":2.3535,"amp":30},{"time":"10 min","ppm":2.352,"amp":90},{"time":"10 min","ppm":2.351,"amp":270},{"time":"10 min","ppm":2.3498,"amp":80},{"time":"10 min","ppm":2.348,"amp":25},{"time":"10 min","ppm":2.345,"amp":10},{"time":"10 min","ppm":2.341,"amp":6},{"time":"10 min","ppm":2.337,"amp":5},{"time":"10 min","ppm":2.333,"amp":7},{"time":"10 min","ppm":2.329,"amp":15},{"time":"10 min","ppm":2.3255,"amp":35},{"time":"10 min","ppm":2.3235,"amp":110},{"time":"10 min","ppm":2.322,"amp":800},{"time":"10 min","ppm":2.3207,"amp":100},{"time":"10 min","ppm":2.3195,"amp":18},{"time":"10 min","ppm":2.3165,"amp":6},{"time":"10 min","ppm":2.3125,"amp":2},{"time":"10 min","ppm":2.306,"amp":0.5},{"time":"10 min","ppm":2.290,"amp":0},
{"time":"10 min","ppm":2.226,"amp":0},{"time":"10 min","ppm":2.2195,"amp":1},{"time":"10 min","ppm":2.213,"amp":0},{"time":"10 min","ppm":2.080,"amp":0},{"time":"10 min","ppm":2.071,"amp":1},{"time":"10 min","ppm":2.064,"amp":0},{"time":"10 min","ppm":2.046,"amp":0.3},{"time":"10 min","ppm":2.041,"amp":3.3},{"time":"10 min","ppm":2.036,"amp":0.4},{"time":"10 min","ppm":2.000,"amp":0.3},
{"time":"10 min","ppm":1.985,"amp":0.8},{"time":"10 min","ppm":1.978,"amp":4},{"time":"10 min","ppm":1.974,"amp":15},{"time":"10 min","ppm":1.9712,"amp":55},{"time":"10 min","ppm":1.970,"amp":170},{"time":"10 min","ppm":1.9688,"amp":50},{"time":"10 min","ppm":1.966,"amp":14},{"time":"10 min","ppm":1.962,"amp":8},{"time":"10 min","ppm":1.958,"amp":7},{"time":"10 min","ppm":1.954,"amp":11},{"time":"10 min","ppm":1.951,"amp":40},
{"time":"10 min","ppm":1.9495,"amp":130},{"time":"10 min","ppm":1.948,"amp":800},{"time":"10 min","ppm":1.9465,"amp":130},{"time":"10 min","ppm":1.945,"amp":35},{"time":"10 min","ppm":1.942,"amp":10},{"time":"10 min","ppm":1.938,"amp":4},{"time":"10 min","ppm":1.933,"amp":2},
{"time":"10 min","ppm":1.928,"amp":3},{"time":"10 min","ppm":1.924,"amp":9},{"time":"10 min","ppm":1.9195,"amp":2},{"time":"10 min","ppm":1.912,"amp":1},{"time":"10 min","ppm":1.906,"amp":2.5},{"time":"10 min","ppm":1.903,"amp":5.7},{"time":"10 min","ppm":1.898,"amp":1.2},{"time":"10 min","ppm":1.888,"amp":1.2},{"time":"10 min","ppm":1.8835,"amp":2.5},{"time":"10 min","ppm":1.882,"amp":5.7},{"time":"10 min","ppm":1.8805,"amp":2.5},{"time":"10 min","ppm":1.876,"amp":1},{"time":"10 min","ppm":1.866,"amp":1.2},{"time":"10 min","ppm":1.861,"amp":3},{"time":"10 min","ppm":1.857,"amp":3.3},{"time":"10 min","ppm":1.852,"amp":2},{"time":"10 min","ppm":1.846,"amp":0.6},{"time":"10 min","ppm":1.835,"amp":0.2},
{"time":"10 min","ppm":1.770,"amp":0.2},{"time":"10 min","ppm":1.761,"amp":1.3},{"time":"10 min","ppm":1.752,"amp":0.3},{"time":"10 min","ppm":1.7395,"amp":2},{"time":"10 min","ppm":1.730,"amp":0.3},{"time":"10 min","ppm":1.718,"amp":1},{"time":"10 min","ppm":1.708,"amp":0.2},
{"time":"10 min","ppm":1.660,"amp":0},{"time":"10 min","ppm":1.630,"amp":0.6},{"time":"10 min","ppm":1.600,"amp":0.3},
{"time":"10 min","ppm":1.572,"amp":0.3},{"time":"10 min","ppm":1.5655,"amp":3},{"time":"10 min","ppm":1.5615,"amp":12},{"time":"10 min","ppm":1.5575,"amp":5.5},{"time":"10 min","ppm":1.5525,"amp":5},{"time":"10 min","ppm":1.5455,"amp":7.5},{"time":"10 min","ppm":1.542,"amp":16},{"time":"10 min","ppm":1.5385,"amp":7},{"time":"10 min","ppm":1.5365,"amp":6},{"time":"10 min","ppm":1.534,"amp":7},{"time":"10 min","ppm":1.5315,"amp":5},{"time":"10 min","ppm":1.5275,"amp":5.5},{"time":"10 min","ppm":1.523,"amp":10},{"time":"10 min","ppm":1.5195,"amp":3.2},{"time":"10 min","ppm":1.514,"amp":0.8},{"time":"10 min","ppm":1.505,"amp":0},{"time":"10 min","ppm":1.500,"amp":-0.7},

{"time":"5 min","ppm":3.000,"amp":0},{"time":"5 min","ppm":2.950,"amp":0},{"time":"5 min","ppm":2.941,"amp":0.7},{"time":"5 min","ppm":2.932,"amp":0},{"time":"5 min","ppm":2.880,"amp":0},{"time":"5 min","ppm":2.830,"amp":0.2},
{"time":"5 min","ppm":2.818,"amp":0.4},{"time":"5 min","ppm":2.813,"amp":2},{"time":"5 min","ppm":2.810,"amp":5.5},{"time":"5 min","ppm":2.806,"amp":3},{"time":"5 min","ppm":2.802,"amp":4.5},{"time":"5 min","ppm":2.797,"amp":2.5},{"time":"5 min","ppm":2.792,"amp":2.5},{"time":"5 min","ppm":2.788,"amp":5.5},{"time":"5 min","ppm":2.784,"amp":3},{"time":"5 min","ppm":2.780,"amp":5},{"time":"5 min","ppm":2.775,"amp":1.2},{"time":"5 min","ppm":2.768,"amp":0.2},{"time":"5 min","ppm":2.700,"amp":0.2},
{"time":"5 min","ppm":2.670,"amp":0.3},{"time":"5 min","ppm":2.664,"amp":2.5},{"time":"5 min","ppm":2.661,"amp":5.5},{"time":"5 min","ppm":2.657,"amp":3.5},{"time":"5 min","ppm":2.653,"amp":5.5},{"time":"5 min","ppm":2.649,"amp":2},{"time":"5 min","ppm":2.645,"amp":2},{"time":"5 min","ppm":2.641,"amp":4.5},{"time":"5 min","ppm":2.637,"amp":7},{"time":"5 min","ppm":2.633,"amp":4},{"time":"5 min","ppm":2.628,"amp":1},{"time":"5 min","ppm":2.620,"amp":0.2},
{"time":"5 min","ppm":2.560,"amp":0},{"time":"5 min","ppm":2.440,"amp":0.3},{"time":"5 min","ppm":2.390,"amp":0.3},
{"time":"5 min","ppm":2.375,"amp":1},{"time":"5 min","ppm":2.370,"amp":2.5},{"time":"5 min","ppm":2.366,"amp":7},{"time":"5 min","ppm":2.3635,"amp":20},{"time":"5 min","ppm":2.3615,"amp":50},{"time":"5 min","ppm":2.3605,"amp":58},{"time":"5 min","ppm":2.359,"amp":45},{"time":"5 min","ppm":2.357,"amp":18},{"time":"5 min","ppm":2.354,"amp":9},{"time":"5 min","ppm":2.349,"amp":5.5},{"time":"5 min","ppm":2.344,"amp":5},{"time":"5 min","ppm":2.339,"amp":6},{"time":"5 min","ppm":2.335,"amp":10},{"time":"5 min","ppm":2.332,"amp":22},{"time":"5 min","ppm":2.3295,"amp":52},{"time":"5 min","ppm":2.328,"amp":57},{"time":"5 min","ppm":2.3265,"amp":45},{"time":"5 min","ppm":2.3245,"amp":20},{"time":"5 min","ppm":2.321,"amp":8},{"time":"5 min","ppm":2.316,"amp":3},{"time":"5 min","ppm":2.309,"amp":1},{"time":"5 min","ppm":2.300,"amp":0.3},
{"time":"5 min","ppm":2.226,"amp":0},{"time":"5 min","ppm":2.2195,"amp":1},{"time":"5 min","ppm":2.213,"amp":0},{"time":"5 min","ppm":2.145,"amp":0},{"time":"5 min","ppm":2.140,"amp":1},{"time":"5 min","ppm":2.135,"amp":0},{"time":"5 min","ppm":2.078,"amp":0},{"time":"5 min","ppm":2.071,"amp":1.5},{"time":"5 min","ppm":2.064,"amp":0.3},{"time":"5 min","ppm":2.046,"amp":0.4},{"time":"5 min","ppm":2.041,"amp":2.5},{"time":"5 min","ppm":2.036,"amp":0.4},{"time":"5 min","ppm":2.000,"amp":0.3},
{"time":"5 min","ppm":1.990,"amp":0.8},{"time":"5 min","ppm":1.982,"amp":3},{"time":"5 min","ppm":1.977,"amp":10},{"time":"5 min","ppm":1.974,"amp":30},{"time":"5 min","ppm":1.972,"amp":60},{"time":"5 min","ppm":1.971,"amp":65},{"time":"5 min","ppm":1.9695,"amp":55},{"time":"5 min","ppm":1.967,"amp":25},{"time":"5 min","ppm":1.963,"amp":8},{"time":"5 min","ppm":1.959,"amp":5},{"time":"5 min","ppm":1.955,"amp":8},{"time":"5 min","ppm":1.952,"amp":25},{"time":"5 min","ppm":1.9495,"amp":58},{"time":"5 min","ppm":1.948,"amp":63},{"time":"5 min","ppm":1.9465,"amp":52},{"time":"5 min","ppm":1.9445,"amp":22},{"time":"5 min","ppm":1.941,"amp":8},{"time":"5 min","ppm":1.936,"amp":4},
{"time":"5 min","ppm":1.930,"amp":5},{"time":"5 min","ppm":1.927,"amp":9},{"time":"5 min","ppm":1.924,"amp":12},{"time":"5 min","ppm":1.921,"amp":8},{"time":"5 min","ppm":1.916,"amp":3},{"time":"5 min","ppm":1.908,"amp":3.5},{"time":"5 min","ppm":1.903,"amp":6},{"time":"5 min","ppm":1.899,"amp":3},{"time":"5 min","ppm":1.892,"amp":1.5},{"time":"5 min","ppm":1.886,"amp":2},{"time":"5 min","ppm":1.883,"amp":3},{"time":"5 min","ppm":1.879,"amp":1.5},{"time":"5 min","ppm":1.870,"amp":1.5},{"time":"5 min","ppm":1.862,"amp":3},{"time":"5 min","ppm":1.856,"amp":3},{"time":"5 min","ppm":1.849,"amp":1.2},{"time":"5 min","ppm":1.840,"amp":0.3},
{"time":"5 min","ppm":1.700,"amp":0.3},{"time":"5 min","ppm":1.630,"amp":0.5},{"time":"5 min","ppm":1.600,"amp":0.2},
{"time":"5 min","ppm":1.572,"amp":0.3},{"time":"5 min","ppm":1.567,"amp":1.5},{"time":"5 min","ppm":1.563,"amp":5},{"time":"5 min","ppm":1.559,"amp":3},{"time":"5 min","ppm":1.553,"amp":2.5},{"time":"5 min","ppm":1.547,"amp":4},{"time":"5 min","ppm":1.543,"amp":7.5},{"time":"5 min","ppm":1.539,"amp":4},{"time":"5 min","ppm":1.534,"amp":3},{"time":"5 min","ppm":1.527,"amp":3},{"time":"5 min","ppm":1.523,"amp":4},{"time":"5 min","ppm":1.519,"amp":2},{"time":"5 min","ppm":1.512,"amp":0.5},{"time":"5 min","ppm":1.505,"amp":0},{"time":"5 min","ppm":1.500,"amp":-0.5},

{"time":"0 min","ppm":3.000,"amp":0},{"time":"0 min","ppm":2.950,"amp":0},{"time":"0 min","ppm":2.880,"amp":0.2},{"time":"0 min","ppm":2.830,"amp":0.3},
{"time":"0 min","ppm":2.822,"amp":0.5},{"time":"0 min","ppm":2.817,"amp":2.5},{"time":"0 min","ppm":2.8135,"amp":8},{"time":"0 min","ppm":2.8115,"amp":16},{"time":"0 min","ppm":2.810,"amp":21},{"time":"0 min","ppm":2.8085,"amp":16},{"time":"0 min","ppm":2.8055,"amp":9.5},{"time":"0 min","ppm":2.8035,"amp":9},{"time":"0 min","ppm":2.801,"amp":12},{"time":"0 min","ppm":2.799,"amp":19},{"time":"0 min","ppm":2.7975,"amp":22},{"time":"0 min","ppm":2.796,"amp":17},{"time":"0 min","ppm":2.793,"amp":10},{"time":"0 min","ppm":2.789,"amp":8.5},{"time":"0 min","ppm":2.7855,"amp":9},{"time":"0 min","ppm":2.783,"amp":13},{"time":"0 min","ppm":2.7815,"amp":18},{"time":"0 min","ppm":2.780,"amp":20},{"time":"0 min","ppm":2.7785,"amp":15},{"time":"0 min","ppm":2.776,"amp":6},{"time":"0 min","ppm":2.772,"amp":2},{"time":"0 min","ppm":2.765,"amp":0.5},
{"time":"0 min","ppm":2.700,"amp":0.3},{"time":"0 min","ppm":2.560,"amp":0},{"time":"0 min","ppm":2.484,"amp":0.2},{"time":"0 min","ppm":2.479,"amp":1.5},{"time":"0 min","ppm":2.474,"amp":0.2},{"time":"0 min","ppm":2.420,"amp":0.2},
{"time":"0 min","ppm":2.395,"amp":1},{"time":"0 min","ppm":2.389,"amp":3},{"time":"0 min","ppm":2.384,"amp":6},{"time":"0 min","ppm":2.380,"amp":14},{"time":"0 min","ppm":2.3775,"amp":35},{"time":"0 min","ppm":2.3762,"amp":100},{"time":"0 min","ppm":2.375,"amp":310},{"time":"0 min","ppm":2.3738,"amp":100},{"time":"0 min","ppm":2.3725,"amp":35},{"time":"0 min","ppm":2.370,"amp":14},{"time":"0 min","ppm":2.366,"amp":6},{"time":"0 min","ppm":2.361,"amp":3},{"time":"0 min","ppm":2.355,"amp":1},{"time":"0 min","ppm":2.345,"amp":0.3},
{"time":"0 min","ppm":2.276,"amp":0},{"time":"0 min","ppm":2.270,"amp":1},{"time":"0 min","ppm":2.264,"amp":0},{"time":"0 min","ppm":2.145,"amp":0},{"time":"0 min","ppm":2.140,"amp":1},{"time":"0 min","ppm":2.135,"amp":0},
{"time":"0 min","ppm":2.075,"amp":0.3},{"time":"0 min","ppm":2.0715,"amp":2},{"time":"0 min","ppm":2.068,"amp":4.5},{"time":"0 min","ppm":2.0645,"amp":2},{"time":"0 min","ppm":2.061,"amp":0.3},{"time":"0 min","ppm":2.010,"amp":0.3},
{"time":"0 min","ppm":1.995,"amp":0.8},{"time":"0 min","ppm":1.987,"amp":2},{"time":"0 min","ppm":1.982,"amp":5},{"time":"0 min","ppm":1.978,"amp":12},{"time":"0 min","ppm":1.9745,"amp":35},{"time":"0 min","ppm":1.9725,"amp":100},{"time":"0 min","ppm":1.971,"amp":208},{"time":"0 min","ppm":1.9695,"amp":100},{"time":"0 min","ppm":1.9675,"amp":35},{"time":"0 min","ppm":1.964,"amp":12},{"time":"0 min","ppm":1.960,"amp":7},{"time":"0 min","ppm":1.956,"amp":5.5},{"time":"0 min","ppm":1.951,"amp":6},{"time":"0 min","ppm":1.946,"amp":8},{"time":"0 min","ppm":1.9435,"amp":12},{"time":"0 min","ppm":1.9415,"amp":21},{"time":"0 min","ppm":1.9395,"amp":11},{"time":"0 min","ppm":1.936,"amp":6},{"time":"0 min","ppm":1.931,"amp":5},{"time":"0 min","ppm":1.926,"amp":8},{"time":"0 min","ppm":1.9232,"amp":17},{"time":"0 min","ppm":1.921,"amp":35},{"time":"0 min","ppm":1.9188,"amp":17},{"time":"0 min","ppm":1.916,"amp":7},{"time":"0 min","ppm":1.911,"amp":4.5},{"time":"0 min","ppm":1.9065,"amp":6},{"time":"0 min","ppm":1.904,"amp":10},{"time":"0 min","ppm":1.902,"amp":20},{"time":"0 min","ppm":1.900,"amp":9},{"time":"0 min","ppm":1.896,"amp":4},{"time":"0 min","ppm":1.889,"amp":2.5},{"time":"0 min","ppm":1.884,"amp":3},{"time":"0 min","ppm":1.881,"amp":5},{"time":"0 min","ppm":1.878,"amp":2.5},{"time":"0 min","ppm":1.871,"amp":2},{"time":"0 min","ppm":1.866,"amp":3},{"time":"0 min","ppm":1.861,"amp":3.5},{"time":"0 min","ppm":1.856,"amp":3},{"time":"0 min","ppm":1.850,"amp":1.5},{"time":"0 min","ppm":1.843,"amp":0.4},{"time":"0 min","ppm":1.830,"amp":0},
{"time":"0 min","ppm":1.700,"amp":0.2},{"time":"0 min","ppm":1.650,"amp":0.4},{"time":"0 min","ppm":1.600,"amp":0.2},{"time":"0 min","ppm":1.500,"amp":0}
]
},
"layer": [
{
"data": {"name": "spectra"},
"transform": [{"calculate": "indexof(['0 min','5 min','10 min','15 min','20 min','25 min','30 min','60 min'], datum.time) * 73.9 + datum.amp", "as": "y"}],
"mark": {"type": "line", "clip": true, "color": "#333333", "strokeOpacity": 0.55, "strokeWidth": 1.25, "strokeJoin": "round", "interpolate": "linear"},
"encoding": {
"x": {"field": "ppm", "type": "quantitative",
"scale": {"domain": [3.0, 1.5], "nice": false, "zero": false},
"axis": {
"orient": "bottom",
"values": [3.0,2.95,2.9,2.85,2.8,2.75,2.7,2.65,2.6,2.55,2.5,2.45,2.4,2.35,2.3,2.25,2.2,2.15,2.1,2.05,2.0,1.95,1.9,1.85,1.8,1.75,1.7,1.65,1.6,1.55,1.5],
"labelExpr": "datum.value >= 2.999 ? '00' : (datum.value <= 1.501 ? '1.5' : format(datum.value, '.2f'))",
"labelAlign": {"condition": {"test": "datum.value >= 2.999", "value": "left"}, "value": "center"},
"tickSize": 4,
"labelFlush": false, "labelOverlap": false, "grid": false,
"labelFont": "DejaVu Sans", "labelFontSize": 12, "labelColor": "#3a3a3a", "labelPadding": 4,
"domainColor": "#555555", "tickColor": "#555555",
"title": "f1 (ppm)", "titleFont": "DejaVu Sans", "titleFontSize": 10.5, "titleFontWeight": "normal", "titleColor": "#3a3a3a", "titlePadding": 3
}},
"y": {"field": "y", "type": "quantitative",
"scale": {"domain": [-59, 603], "nice": false, "zero": false},
"axis": {
"values": [0, 73.9, 147.8, 221.7, 295.6, 369.5, 443.4, 517.3],
"labelExpr": "['0 min','5 min','10 min','15 min','20 min','25 min','30 min','60 min'][round(datum.value/73.9)]",
"domain": false, "ticks": false, "grid": false, "labelOverlap": false,
"labelFont": "DejaVu Sans", "labelFontSize": 24, "labelColor": "#111111", "labelPadding": 7, "title": null
}},
"detail": {"field": "time"}
}
},
{
"data": {"name": "headers"},
"mark": {"type": "text", "lineBreak": "\n", "font": "DejaVu Sans", "fontSize": 24, "color": "#111111", "lineHeight": 30, "align": "center", "baseline": "middle"},
"encoding": {
"x": {"field": "ppm", "type": "quantitative",
"axis": {
"orient": "bottom",
"values": [2.975,2.925,2.875,2.825,2.775,2.725,2.675,2.625,2.575,2.525,2.475,2.425,2.375,2.325,2.275,2.225,2.175,2.125,2.075,2.025,1.975,1.925,1.875,1.825,1.775,1.725,1.675,1.625,1.575,1.525],
"labels": false, "domain": false, "grid": false, "ticks": true, "tickSize": 2, "tickColor": "#555555", "title": null
}},
"y": {"datum": 662},
"text": {"field": "label"}
}
}
]
}
